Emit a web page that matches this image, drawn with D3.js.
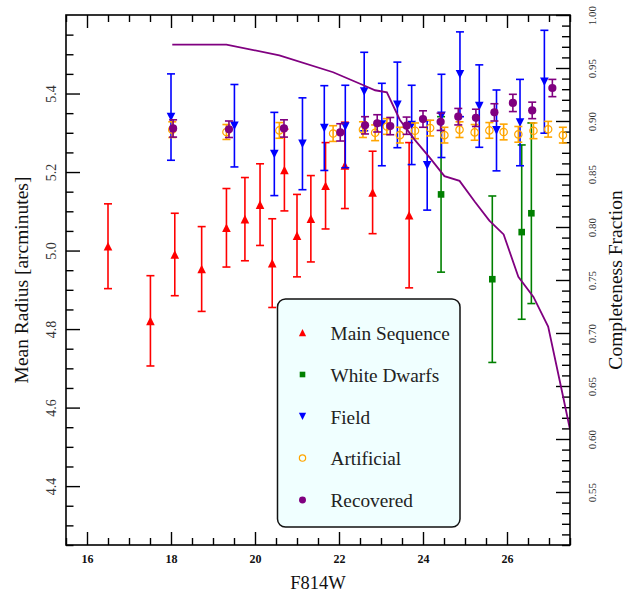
<!DOCTYPE html>
<html>
<head>
<meta charset="utf-8">
<script src="https://cdn.jsdelivr.net/npm/d3@7"></script>
<style>
  body { margin: 0; background: #fff; }
  svg { display: block; }
</style>
</head>
<body>
<svg id="chart" width="634" height="592"></svg>
<script>
// ---- data: mean radius vs F814W magnitude ----
const msMag = [16.5, 17.51, 18.09, 18.73, 19.32, 19.76, 20.12, 20.41, 20.70, 21.0, 21.33, 21.68, 22.14, 22.80, 23.67];
const msRad = [5.011, 4.821, 4.99, 4.953, 5.058, 5.08, 5.117, 4.968, 5.205, 5.038, 5.081, 5.165, 5.217, 5.148, 5.09];
const msErr = [0.108, 0.115, 0.105, 0.108, 0.100, 0.106, 0.104, 0.113, 0.104, 0.105, 0.110, 0.110, 0.110, 0.105, 0.185];

const wdMag = [24.43, 25.65, 26.35, 26.58];
const wdRad = [5.143, 4.927, 5.047, 5.095];
const wdErr = [0.198, 0.212, 0.222, 0.230];

const fieldMag = [18.0, 19.51, 20.46, 21.13, 21.65, 22.15, 22.6, 23.02, 23.39, 23.73, 24.1, 24.44, 24.88, 25.34, 25.75, 26.31, 26.89];
const fieldRad = [5.340, 5.318, 5.246, 5.272, 5.312, 5.316, 5.405, 5.321, 5.371, 5.320, 5.217, 5.343, 5.449, 5.368, 5.306, 5.326, 5.430];
const fieldErr = [0.110, 0.105, 0.106, 0.117, 0.108, 0.105, 0.100, 0.105, 0.109, 0.101, 0.114, 0.106, 0.108, 0.105, 0.103, 0.110, 0.131];

const artMag = [18.03, 19.32, 20.58, 21.86, 22.57, 22.86, 23.14, 23.45, 23.81, 24.17, 24.51, 24.87, 25.23, 25.58, 25.92, 26.27, 26.63, 26.98, 27.33];
const artRad = [5.308, 5.302, 5.306, 5.298, 5.308, 5.300, 5.316, 5.294, 5.305, 5.312, 5.294, 5.308, 5.301, 5.306, 5.302, 5.296, 5.305, 5.309, 5.294];
const artErr = [0.020, 0.019, 0.020, 0.020, 0.020, 0.020, 0.020, 0.020, 0.020, 0.020, 0.020, 0.020, 0.020, 0.020, 0.020, 0.020, 0.020, 0.020, 0.020];

const recMag = [18.05, 19.38, 20.69, 22.03, 22.62, 22.91, 23.22, 23.61, 24.0, 24.42, 24.84, 25.26, 25.70, 26.14, 26.60, 27.08];
const recRad = [5.311, 5.309, 5.311, 5.301, 5.319, 5.324, 5.317, 5.318, 5.335, 5.328, 5.341, 5.338, 5.352, 5.376, 5.357, 5.414];
const recErr = [0.022, 0.021, 0.022, 0.022, 0.022, 0.022, 0.022, 0.022, 0.021, 0.022, 0.021, 0.022, 0.022, 0.022, 0.021, 0.022];

// completeness fraction of the artificial-star bins (right axis)
const complMag = [18.03, 19.32, 20.58, 21.86, 22.57, 22.86, 23.14, 23.45, 23.81, 24.17, 24.51, 24.87, 25.23, 25.58, 25.92, 26.27, 26.63, 26.98, 27.33, 27.5];
const complFrac = [0.972, 0.972, 0.962, 0.946, 0.934, 0.929, 0.927, 0.901, 0.882, 0.865, 0.848, 0.8435, 0.824, 0.806, 0.793, 0.753, 0.734, 0.706, 0.641, 0.609];

// axis ticks
const xMajor = [16, 18, 20, 22, 24, 26];
const yMajor = [4.4, 4.6, 4.8, 5.0, 5.2, 5.4];
const cMajor = [0.55, 0.60, 0.65, 0.70, 0.75, 0.80, 0.85, 0.90, 0.95, 1.00];

const legendLabels = ["Main Sequence", "White Dwarfs", "Field", "Artificial", "Recovered"];

// ---- layout ----
const L = 66, R = 570, T = 15, B = 545;
const SERIF = "'Liberation Serif', 'Times New Roman', 'DejaVu Serif', serif";
const COLORS = { ms: "#ff0000", wd: "#008000", field: "#0000ff", art: "#ffa500", rec: "#800080" };

const svg = d3.select("#chart");
const x = d3.scaleLinear().domain([15.5, 27.5]).range([L, R]);
const y = d3.scaleLinear().domain([4.25, 5.6]).range([B, T]);
const yc = d3.scaleLinear().domain([0.5, 1.0]).range([B, T]);

const round = v => Math.round(v * 1000) / 1000;
const range = (a, b, s) => d3.range(Math.round((b - a) / s) + 1).map(i => round(a + i * s));
const notIn = arr => v => !arr.some(m => Math.abs(m - v) < 1e-6);

const xMinor = range(15.5, 27.5, 0.5).filter(notIn(xMajor));
const yMinor = range(4.25, 5.55, 0.05).filter(notIn(yMajor));
const cMinor = range(0.5, 0.99, 0.01).filter(notIn(cMajor));

svg.append("defs").append("clipPath").attr("id", "plotClip")
  .append("rect").attr("x", L).attr("y", T).attr("width", R - L).attr("height", B - T);

// ---- axes (ticks pointing inward) ----
function styleAxis(g) {
  g.select(".domain").remove();
  g.selectAll(".tick line").attr("stroke", "#000").attr("stroke-width", 1.4);
}

// bottom
const gB = svg.append("g").attr("transform", `translate(0,${B})`)
  .call(d3.axisBottom(x).tickValues(xMajor).tickSizeInner(-13).tickSizeOuter(0).tickPadding(9).tickFormat(d3.format("d")));
styleAxis(gB);
gB.selectAll("text").attr("font-family", SERIF).attr("font-size", 12).attr("font-weight", "bold").attr("fill", "#111");
const gBm = svg.append("g").attr("transform", `translate(0,${B})`)
  .call(d3.axisBottom(x).tickValues(xMinor).tickSizeInner(-7).tickSizeOuter(0).tickFormat(""));
styleAxis(gBm);

// top
const gT = svg.append("g").attr("transform", `translate(0,${T})`)
  .call(d3.axisTop(x).tickValues(xMajor).tickSizeInner(-13).tickSizeOuter(0).tickFormat(""));
styleAxis(gT);
const gTm = svg.append("g").attr("transform", `translate(0,${T})`)
  .call(d3.axisTop(x).tickValues(xMinor).tickSizeInner(-7).tickSizeOuter(0).tickFormat(""));
styleAxis(gTm);

// left (mean radius)
const gL = svg.append("g").attr("transform", `translate(${L},0)`)
  .call(d3.axisLeft(y).tickValues(yMajor).tickSizeInner(-14).tickSizeOuter(0).tickFormat(d3.format(".1f")));
styleAxis(gL);
gL.selectAll("text")
  .attr("x", null).attr("dy", "0.35em")
  .attr("transform", "translate(-14.5,0) rotate(-90)")
  .attr("text-anchor", "middle")
  .attr("font-family", SERIF).attr("font-size", 14).attr("fill", "#333");
const gLm = svg.append("g").attr("transform", `translate(${L},0)`)
  .call(d3.axisLeft(y).tickValues(yMinor).tickSizeInner(-7.5).tickSizeOuter(0).tickFormat(""));
styleAxis(gLm);

// right (completeness fraction)
const gR = svg.append("g").attr("transform", `translate(${R},0)`)
  .call(d3.axisRight(yc).tickValues(cMajor).tickSizeInner(-14).tickSizeOuter(0).tickFormat(d3.format(".2f")));
styleAxis(gR);
gR.selectAll("text")
  .attr("x", null).attr("dy", "0.35em")
  .attr("transform", "translate(22.5,0) rotate(-90)")
  .attr("text-anchor", "middle")
  .attr("font-family", SERIF).attr("font-size", 11).attr("fill", "#333");
const gRm = svg.append("g").attr("transform", `translate(${R},0)`)
  .call(d3.axisRight(yc).tickValues(cMinor).tickSizeInner(-8).tickSizeOuter(0).tickFormat(""));
styleAxis(gRm);

// axis titles
svg.append("text").attr("x", 318).attr("y", 589)
  .attr("text-anchor", "middle").attr("font-family", SERIF).attr("font-size", 18.5).attr("fill", "#111")
  .text("F814W");
svg.append("text").attr("transform", "translate(28,280) rotate(-90)")
  .attr("text-anchor", "middle").attr("font-family", SERIF).attr("font-size", 19.5).attr("fill", "#111")
  .text("Mean Radius [arcminutes]");
svg.append("text").attr("transform", "translate(621.5,280) rotate(-90)")
  .attr("text-anchor", "middle").attr("font-family", SERIF).attr("font-size", 19.5).attr("fill", "#111")
  .text("Completeness Fraction");

// ---- markers ----
const S = 4.3;
const markers = {
  triUp: (g, c, k = 1) => g.append("path").attr("d", `M0,${-S * k}L${S * k},${S * k}L${-S * k},${S * k}Z`).attr("fill", c),
  triDown: (g, c, k = 1) => g.append("path").attr("d", `M0,${S * k}L${S * k},${-S * k}L${-S * k},${-S * k}Z`).attr("fill", c),
  square: (g, c, k = 1) => g.append("rect").attr("x", -3.3 * k).attr("y", -3.3 * k).attr("width", 6.6 * k).attr("height", 6.6 * k).attr("fill", c),
  openCircle: (g, c, k = 1) => g.append("circle").attr("r", 3.7 * k).attr("fill", "none").attr("stroke", c).attr("stroke-width", 1.2),
  dot: (g, c, k = 1) => g.append("circle").attr("r", 4.1 * k).attr("fill", c)
};

// error-bar series
function errorSeries(mags, vals, errs, color, marker) {
  const data = mags.map((m, i) => ({ m, v: vals[i], e: errs[i] }));
  const g = svg.append("g").attr("clip-path", "url(#plotClip)");
  const pts = g.selectAll("g").data(data).join("g");
  pts.append("line")
    .attr("x1", d => x(d.m)).attr("x2", d => x(d.m))
    .attr("y1", d => y(d.v - d.e)).attr("y2", d => y(d.v + d.e))
    .attr("stroke", color).attr("stroke-width", 1.6);
  [-1, 1].forEach(sgn => {
    pts.append("line")
      .attr("x1", d => x(d.m) - 4).attr("x2", d => x(d.m) + 4)
      .attr("y1", d => y(d.v + sgn * d.e)).attr("y2", d => y(d.v + sgn * d.e))
      .attr("stroke", color).attr("stroke-width", 1.6);
  });
  pts.each(function (d) {
    const mg = d3.select(this).append("g").attr("transform", `translate(${x(d.m)},${y(d.v)})`);
    markers[marker](mg, color);
  });
}

errorSeries(msMag, msRad, msErr, COLORS.ms, "triUp");
errorSeries(wdMag, wdRad, wdErr, COLORS.wd, "square");
errorSeries(fieldMag, fieldRad, fieldErr, COLORS.field, "triDown");
errorSeries(artMag, artRad, artErr, COLORS.art, "openCircle");
errorSeries(recMag, recRad, recErr, COLORS.rec, "dot");

// ---- legend ----
const lg = svg.append("g");
lg.append("rect").attr("x", 277.5).attr("y", 299).attr("width", 182.5).attr("height", 228)
  .attr("rx", 8).attr("ry", 8)
  .attr("fill", "#f0ffff").attr("stroke", "#111").attr("stroke-width", 1.5);
const legendKeys = [["ms", "triUp"], ["wd", "square"], ["field", "triDown"], ["art", "openCircle"], ["rec", "dot"]];
legendLabels.forEach((lab, i) => {
  const cy = 332.7 + i * 41.8;
  const mg = lg.append("g").attr("transform", `translate(302.5,${cy})`);
  markers[legendKeys[i][1]](mg, COLORS[legendKeys[i][0]], 0.85);
  lg.append("text").attr("x", 330.5).attr("y", cy + 7.3)
    .attr("font-family", SERIF).attr("font-size", 19.3).attr("fill", "#222")
    .text(lab);
});

// ---- completeness curve (right axis) ----
svg.append("path")
  .datum(complMag.map((m, i) => [m, complFrac[i]]))
  .attr("clip-path", "url(#plotClip)")
  .attr("d", d3.line().x(d => x(d[0])).y(d => yc(d[1])))
  .attr("fill", "none").attr("stroke", COLORS.rec).attr("stroke-width", 1.8);

// frame
svg.append("rect").attr("x", L).attr("y", T).attr("width", R - L).attr("height", B - T)
  .attr("fill", "none").attr("stroke", "#000").attr("stroke-width", 1.6);
</script>
</body>
</html>
